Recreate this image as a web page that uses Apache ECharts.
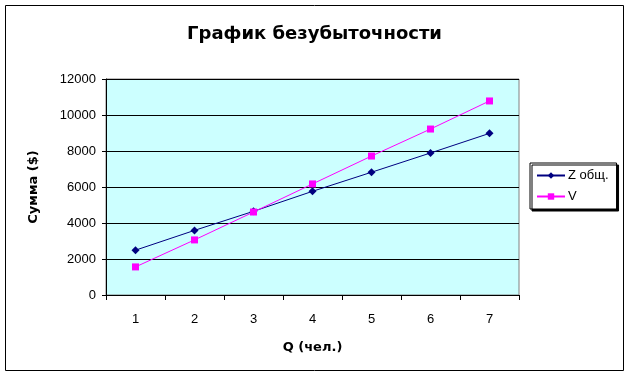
<!DOCTYPE html>
<html><head><meta charset="utf-8">
<script src="https://cdn.jsdelivr.net/npm/echarts@6/dist/echarts.min.js"></script>
<style>html,body{margin:0;padding:0;background:#fff}#c{width:629px;height:376px}</style>
</head><body><div id="c"></div>
<script>
const categories = ['1','2','3','4','5','6','7'];
const zTotal = [2490, 3590, 4650, 5760, 6820, 7890, 8980];
const vRevenue = [1560, 3060, 4610, 6170, 7720, 9220, 10780];
const yTicks = [0, 2000, 4000, 6000, 8000, 10000, 12000];
const font = 'Liberation Sans, Arial, sans-serif';
const boldFont = 'DejaVu Sans, sans-serif';

const chart = echarts.init(document.getElementById('c'), null, {renderer:'canvas'});
chart.setOption({
  backgroundColor:'#fff',
  animation:false,
  title:{text:'График безубыточности', left:'center', top:20,
    textStyle:{fontFamily:boldFont, fontSize:18, fontWeight:'bold', color:'#000'}},
  graphic:[{type:'rect', shape:{x:5.5, y:5.5, width:618, height:365},
    style:{fill:'none', stroke:'#000', lineWidth:1}, z:-1}],
  grid:{left:106, top:79, width:413, height:216, show:true,
    backgroundColor:'#ccffff', borderColor:'#808080', borderWidth:1},
  legend:{orient:'vertical', left:530, top:163,
    padding:[6,8,6,6], itemGap:8, itemWidth:28, itemHeight:8,
    borderColor:'#000', borderWidth:1, backgroundColor:'#fff',
    shadowColor:'#000', shadowOffsetX:2, shadowOffsetY:2, shadowBlur:0,
    textStyle:{fontFamily:font, fontSize:13, color:'#000', padding:[0,4,0,-2]},
    data:['Z общ.','V']},
  xAxis:{type:'category', data:categories, boundaryGap:true,
    name:'Q (чел.)', nameLocation:'middle', nameGap:46,
    nameTextStyle:{fontFamily:boldFont, fontSize:13, fontWeight:'bold', color:'#000'},
    axisLine:{lineStyle:{color:'#000', width:1}},
    axisTick:{show:true, length:5, alignWithLabel:false, lineStyle:{color:'#000'}},
    axisLabel:{fontFamily:font, fontSize:13, color:'#000', margin:18}},
  yAxis:{type:'value', min:0, max:12000, interval:2000,
    name:'Сумма ($)', nameLocation:'middle', nameGap:66, nameRotate:90,
    nameTextStyle:{fontFamily:boldFont, fontSize:13, fontWeight:'bold', color:'#000'},
    axisLine:{show:true, lineStyle:{color:'#000', width:1}},
    axisTick:{show:true, length:4, lineStyle:{color:'#000'}},
    axisLabel:{fontFamily:font, fontSize:13, color:'#000', margin:10,
      formatter: v => yTicks.includes(v) ? String(v) : ''},
    splitLine:{show:true, lineStyle:{color:'#000', width:1}}},
  series:[
    {name:'Z общ.', type:'line', data:zTotal, symbol:'diamond', symbolSize:8,
      lineStyle:{color:'#000080', width:1}, itemStyle:{color:'#000080'}},
    {name:'V', type:'line', data:vRevenue, symbol:'rect', symbolSize:7,
      lineStyle:{color:'#ff00ff', width:1}, itemStyle:{color:'#ff00ff'}}
  ]
});
</script></body></html>
